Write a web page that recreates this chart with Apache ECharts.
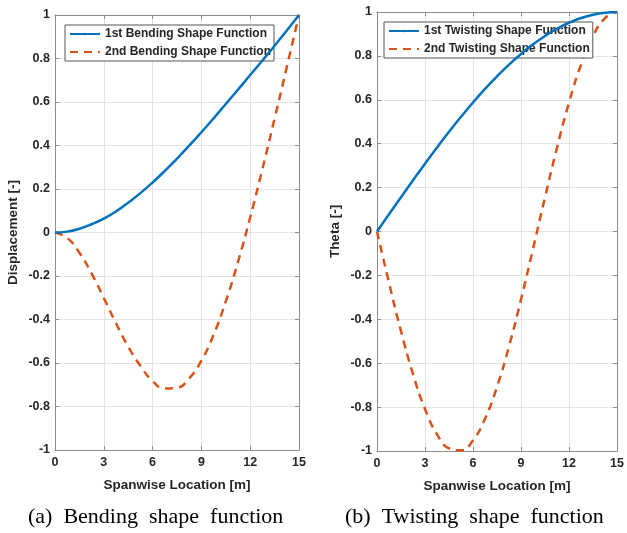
<!DOCTYPE html>
<html>
<head>
<meta charset="utf-8">
<script src="https://cdn.jsdelivr.net/npm/echarts@6/dist/echarts.min.js"></script>
<style>
  html, body { margin: 0; padding: 0; background: #fff; }
  #main { width: 627px; height: 533px; }
</style>
</head>
<body>
<div id="main"></div>
<script>
// spanwise stations [m]
const xPos = [0, 0.75, 1.5, 2.25, 3, 3.75, 4.5, 5.25, 6, 6.75, 7.5,
  8.25, 9, 9.75, 10.5, 11.25, 12, 12.75, 13.5, 14.25, 15];

// (a) bending shape functions
const bend1 = [0, 0.004, 0.017, 0.038, 0.064, 0.097, 0.137, 0.181, 0.230, 0.283, 0.340,
  0.399, 0.461, 0.525, 0.591, 0.657, 0.724, 0.791, 0.859, 0.929, 1.0];
const bend2 = [0, -0.025, -0.093, -0.189, -0.301, -0.417, -0.525, -0.613, -0.683, -0.717, -0.714,
  -0.671, -0.589, -0.470, -0.317, -0.135, 0.070, 0.292, 0.524, 0.761, 1.0];

// (b) twisting shape functions
const twist1 = [0, 0.0785, 0.1564, 0.2334, 0.3090, 0.3827, 0.4540, 0.5225, 0.5878, 0.6494, 0.7071,
  0.7604, 0.8090, 0.8526, 0.8910, 0.9239, 0.9511, 0.9724, 0.9877, 0.9969, 1.0];
const twist2 = [0, -0.2334, -0.4540, -0.6494, -0.8090, -0.9239, -0.9877, -0.9969, -0.9511, -0.8526, -0.7071,
  -0.5225, -0.3090, -0.0785, 0.1564, 0.3827, 0.5878, 0.7604, 0.8910, 0.9724, 1.0];

const blue = '#0072BD';
const red = '#D95319';
const axisGray = '#8c8c8c';
const font = 'Liberation Sans, Arial, sans-serif';

const pairs = (ys) => xPos.map((x, i) => [x, ys[i]]);

function xAx(grid, name, top) {
  return {
    type: 'value', gridIndex: grid, min: 0, max: 15, interval: 3,
    position: top ? 'top' : 'bottom',
    name: top ? '' : name, nameLocation: 'middle', nameGap: 28,
    nameTextStyle: {fontFamily: font, fontWeight: 'bold', fontSize: 13.5, color: '#262626'},
    axisLine: {show: true, onZero: false, lineStyle: {color: axisGray}},
    axisTick: {show: true, inside: true, length: 4, lineStyle: {color: axisGray}},
    axisLabel: {show: !top, margin: 6, fontFamily: font, fontWeight: 'bold', fontSize: 12.5, color: '#262626'},
    splitLine: {show: !top, lineStyle: {color: '#e4e4e4'}}
  };
}

function yAx(grid, name, right) {
  return {
    type: 'value', gridIndex: grid, min: -1, max: 1, interval: 0.2,
    position: right ? 'right' : 'left',
    name: right ? '' : name, nameLocation: 'middle', nameGap: 35,
    nameTextStyle: {fontFamily: font, fontWeight: 'bold', fontSize: 13.5, color: '#262626'},
    axisLine: {show: true, onZero: false, lineStyle: {color: axisGray}},
    axisTick: {show: true, inside: true, length: 4, lineStyle: {color: axisGray}},
    axisLabel: {show: !right, margin: 5, fontFamily: font, fontWeight: 'bold', fontSize: 12.5, color: '#262626',
      formatter: v => String(Math.round(v * 10) / 10)},
    splitLine: {show: !right, lineStyle: {color: '#e4e4e4'}}
  };
}

function lineSeries(name, ys, color, dashed, xi, yi) {
  return {
    name: name, type: 'line', xAxisIndex: xi, yAxisIndex: yi,
    data: pairs(ys), smooth: true, showSymbol: false, symbol: 'none',
    lineStyle: {color: color, width: 2.5, type: dashed ? [8, 6] : 'solid'},
    itemStyle: {color: color}, z: dashed ? 3 : 4
  };
}

const legendBase = {
  orient: 'vertical', itemWidth: 30, itemHeight: 3, itemGap: 6,
  backgroundColor: '#fff', borderColor: '#555', borderWidth: 1, padding: [3, 3, 3, 4],
  textStyle: {fontFamily: font, fontWeight: 'bold', fontSize: 12, color: '#262626'}
};

const captionFont = '22px "Liberation Serif", "Times New Roman", serif';

const chart = echarts.init(document.getElementById('main'), null, {renderer: 'canvas'});
chart.setOption({
  animation: false,
  backgroundColor: '#fff',
  grid: [
    {left: 55, top: 15, width: 244, height: 435},
    {left: 377, top: 12, width: 244, height: 439}
  ],
  xAxis: [
    xAx(0, 'Spanwise Location [m]', false),
    xAx(1, 'Spanwise Location [m]', false),
    xAx(0, '', true),
    xAx(1, '', true)
  ],
  yAxis: [
    yAx(0, 'Displacement [-]', false),
    yAx(1, 'Theta [-]', false),
    yAx(0, '', true),
    yAx(1, '', true)
  ],
  legend: [
    Object.assign({}, legendBase, {left: 65, top: 25,
      data: ['1st Bending Shape Function', '2nd Bending Shape Function']}),
    Object.assign({}, legendBase, {left: 384, top: 22,
      data: ['1st Twisting Shape Function', '2nd Twisting Shape Function']})
  ],
  series: [
    lineSeries('1st Bending Shape Function', bend1, blue, false, 0, 0),
    lineSeries('2nd Bending Shape Function', bend2, red, true, 0, 0),
    lineSeries('1st Twisting Shape Function', twist1, blue, false, 1, 1),
    lineSeries('2nd Twisting Shape Function', twist2, red, true, 1, 1)
  ],
  graphic: [
    {type: 'text', left: 28, top: 506,
      style: {text: '(a)  Bending  shape  function', font: captionFont, fill: '#000'}},
    {type: 'text', left: 345, top: 506,
      style: {text: '(b)  Twisting  shape  function', font: captionFont, fill: '#000'}}
  ]
});
</script>
</body>
</html>
